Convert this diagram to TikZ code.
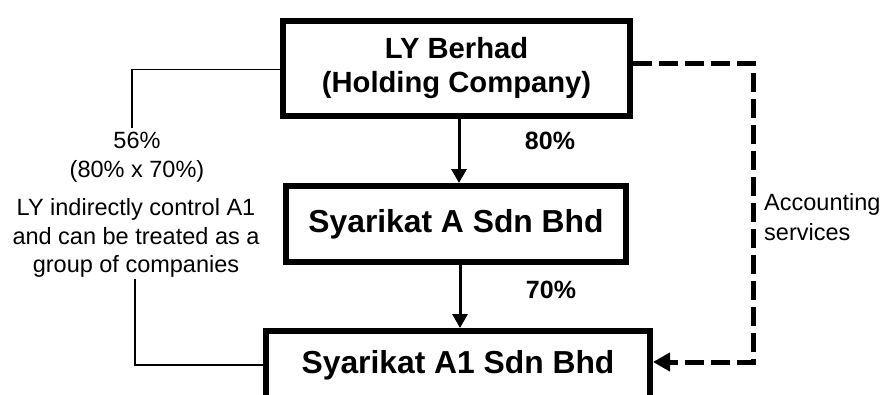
\documentclass[tikz,border=0pt]{standalone}
\usepackage{fontspec}
\setmainfont{Liberation Sans}
\usetikzlibrary{arrows.meta}
\begin{document}
\begin{tikzpicture}[x=1pt,y=-1pt,
  company/.style={draw, line width=6pt, inner sep=0pt, align=center, font=\bfseries\fontsize{31.8pt}{36pt}\selectfont},
  pct/.style={inner sep=0pt, font=\bfseries\fontsize{25pt}{29pt}\selectfont},
  note/.style={inner sep=1pt, align=center, font=\fontsize{23.5pt}{28.5pt}\selectfont},
  own/.style={line width=3pt, -{Triangle[width=15pt,length=14pt]}},
  thin/.style={line width=1.5pt},
  service/.style={line width=5pt, dash pattern=on 19pt off 7pt, -{Triangle[width=18pt,length=17pt]}}]
\clip (0,0) rectangle (896,394);
\fill[white] (0,0) rectangle (896,394);

\node[company, minimum width=347pt, minimum height=95pt, font=\bfseries\fontsize{29.2pt}{34pt}\selectfont] (LY) at (456.5,68) {LY Berhad\\(Holding Company)};
\node[company, minimum width=340pt, minimum height=76pt] (A) at (456,224) {Syarikat A Sdn Bhd};
\node[company, minimum width=384pt, minimum height=68pt] (A1) at (458,365) {Syarikat A1 Sdn Bhd};

\node[pct] (p80) at (550,141) {80\%};
\node[pct] (p70) at (551,290) {70\%};

\node[note] (t56) at (137,157) {56\%\\(80\% x 70\%)};
\node[note] (tlong) at (136,238) {LY indirectly control A1\\and can be treated as a\\group of companies};
\node[note, anchor=west, align=left, font=\fontsize{23.5pt}{30pt}\selectfont] (acc) at (763,217) {Accounting\\services};

\coordinate (dcol) at (753,200);

\draw[own] ([xshift=2.5pt]LY.south) -- ([xshift=3pt]A.north);
\draw[own] ([xshift=4pt]A.south) -- ([xshift=2pt]A1.north);

\draw[thin] ([yshift=-1.5pt]LY.west) -| ([xshift=-5pt,yshift=3pt]t56.north);
\draw[thin] ([xshift=-1pt]tlong.south) |- (A1.west);

\draw[service] ([yshift=5pt]LY.east) -| (dcol) |- ([yshift=3pt]A1.east);
\end{tikzpicture}
\end{document}
